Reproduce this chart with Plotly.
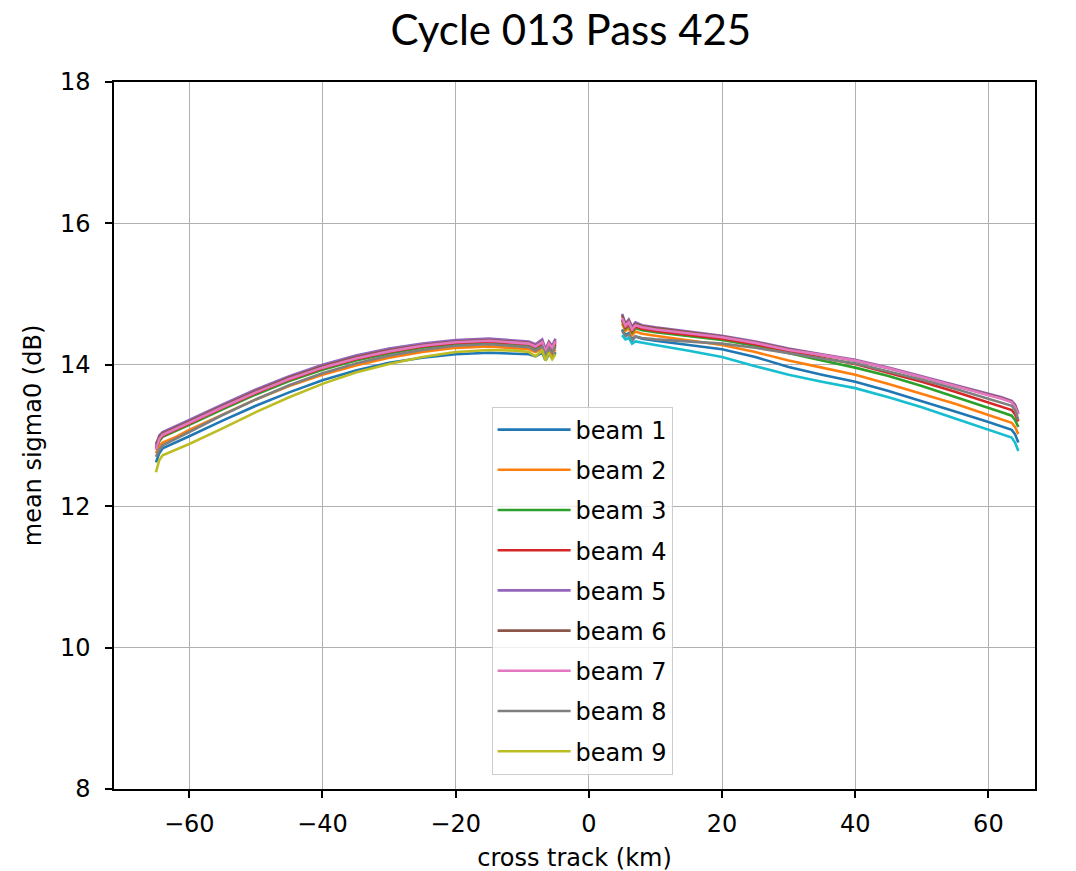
import plotly.graph_objects as go

X_LEFT = [-65, -64.5, -64, -62, -60, -55, -50, -45, -40, -35, -30, -25, -20, -15, -11, -9, -8, -7, -6.5, -6, -5.5, -5]
X_RIGHT = [5, 5.5, 6, 6.5, 7, 8, 10, 15, 20, 25, 30, 35, 40, 45, 50, 55, 60, 62, 63.5, 64, 64.5]

B1_LEFT = [12.62, 12.75, 12.82, 12.90, 12.99, 13.21, 13.42, 13.61, 13.78, 13.92, 14.03, 14.10, 14.15, 14.17, 14.16, 14.15, 14.12, 14.17, 14.06, 14.15, 14.10, 14.18]
B2_LEFT = [12.75, 12.85, 12.90, 12.98, 13.08, 13.30, 13.51, 13.70, 13.86, 13.99, 14.10, 14.18, 14.24, 14.26, 14.24, 14.22, 14.18, 14.23, 14.12, 14.21, 14.15, 14.22]
B3_LEFT = [12.80, 12.92, 12.98, 13.06, 13.15, 13.37, 13.58, 13.77, 13.93, 14.06, 14.16, 14.24, 14.29, 14.31, 14.29, 14.27, 14.23, 14.28, 14.16, 14.26, 14.20, 14.29]
B4_LEFT = [12.82, 12.94, 13.00, 13.08, 13.17, 13.39, 13.60, 13.79, 13.95, 14.08, 14.18, 14.26, 14.31, 14.33, 14.31, 14.29, 14.25, 14.30, 14.18, 14.28, 14.22, 14.31]
B5_LEFT = [12.85, 13.00, 13.05, 13.13, 13.22, 13.44, 13.65, 13.84, 14.00, 14.13, 14.23, 14.30, 14.35, 14.37, 14.35, 14.33, 14.29, 14.36, 14.22, 14.33, 14.27, 14.37]
B6_LEFT = [12.88, 12.98, 13.03, 13.11, 13.20, 13.42, 13.63, 13.82, 13.98, 14.11, 14.21, 14.28, 14.33, 14.35, 14.33, 14.31, 14.27, 14.33, 14.20, 14.31, 14.25, 14.34]
B7_LEFT = [12.80, 12.95, 13.01, 13.09, 13.18, 13.40, 13.61, 13.80, 13.96, 14.09, 14.19, 14.27, 14.32, 14.34, 14.32, 14.30, 14.26, 14.32, 14.19, 14.30, 14.24, 14.33]
B8_LEFT = [12.70, 12.80, 12.86, 12.96, 13.05, 13.29, 13.51, 13.71, 13.88, 14.02, 14.13, 14.21, 14.27, 14.29, 14.27, 14.25, 14.20, 14.26, 14.13, 14.23, 14.17, 14.26]
B9_LEFT = [12.48, 12.65, 12.72, 12.80, 12.88, 13.10, 13.33, 13.54, 13.73, 13.89, 14.01, 14.11, 14.18, 14.21, 14.20, 14.18, 14.12, 14.20, 14.06, 14.17, 14.08, 14.15]

B1_RIGHT = [14.50, 14.42, 14.45, 14.36, 14.40, 14.37, 14.34, 14.28, 14.22, 14.11, 13.97, 13.86, 13.76, 13.63, 13.49, 13.34, 13.19, 13.13, 13.08, 13.02, 12.90]
B2_RIGHT = [14.58, 14.48, 14.52, 14.42, 14.47, 14.44, 14.41, 14.35, 14.28, 14.18, 14.06, 13.96, 13.86, 13.73, 13.59, 13.45, 13.29, 13.23, 13.18, 13.12, 13.02]
B3_RIGHT = [14.62, 14.51, 14.56, 14.46, 14.52, 14.49, 14.46, 14.40, 14.35, 14.27, 14.16, 14.06, 13.96, 13.84, 13.70, 13.55, 13.39, 13.33, 13.28, 13.22, 13.12]
B4_RIGHT = [14.64, 14.53, 14.58, 14.48, 14.54, 14.51, 14.48, 14.42, 14.37, 14.29, 14.19, 14.10, 14.01, 13.89, 13.76, 13.62, 13.47, 13.41, 13.36, 13.30, 13.20]
B5_RIGHT = [14.72, 14.58, 14.64, 14.54, 14.60, 14.56, 14.53, 14.47, 14.41, 14.33, 14.23, 14.15, 14.07, 13.96, 13.84, 13.72, 13.59, 13.54, 13.49, 13.44, 13.32]
B6_RIGHT = [14.70, 14.57, 14.62, 14.52, 14.58, 14.55, 14.52, 14.46, 14.40, 14.32, 14.22, 14.14, 14.06, 13.95, 13.83, 13.71, 13.58, 13.53, 13.48, 13.42, 13.30]
B7_RIGHT = [14.66, 14.55, 14.60, 14.50, 14.56, 14.53, 14.50, 14.44, 14.39, 14.31, 14.21, 14.14, 14.06, 13.95, 13.83, 13.70, 13.57, 13.52, 13.47, 13.40, 13.30]
B8_RIGHT = [14.48, 14.40, 14.43, 14.34, 14.40, 14.38, 14.36, 14.33, 14.30, 14.24, 14.16, 14.09, 14.02, 13.91, 13.79, 13.66, 13.52, 13.47, 13.42, 13.36, 13.22]
B10_RIGHT = [14.42, 14.36, 14.38, 14.30, 14.33, 14.31, 14.28, 14.20, 14.11, 13.98, 13.86, 13.76, 13.67, 13.54, 13.40, 13.24, 13.08, 13.02, 12.97, 12.90, 12.78]

BEAM_NAMES = ["beam 1", "beam 2", "beam 3", "beam 4", "beam 5", "beam 6", "beam 7", "beam 8", "beam 9", "beam 10"]
COLORS = ["#1f77b4", "#ff7f0e", "#2ca02c", "#d62728", "#9467bd", "#8c564b", "#e377c2", "#7f7f7f", "#bcbd22", "#17becf"]

X_TICKS = [-60, -40, -20, 0, 20, 40, 60]
X_TICK_LABELS = ["\u221260", "\u221240", "\u221220", "0", "20", "40", "60"]
Y_TICKS = [8, 10, 12, 14, 16, 18]

LEFTS = [B1_LEFT, B2_LEFT, B3_LEFT, B4_LEFT, B5_LEFT, B6_LEFT, B7_LEFT, B8_LEFT, B9_LEFT, None]
RIGHTS = [B1_RIGHT, B2_RIGHT, B3_RIGHT, B4_RIGHT, B5_RIGHT, B6_RIGHT, B7_RIGHT, B8_RIGHT, None, B10_RIGHT]

fig = go.Figure()
for i, name in enumerate(BEAM_NAMES):
    xs, ys = [], []
    if LEFTS[i] is not None:
        xs += X_LEFT
        ys += LEFTS[i]
    if LEFTS[i] is not None and RIGHTS[i] is not None:
        xs.append(None)
        ys.append(None)
    if RIGHTS[i] is not None:
        xs += X_RIGHT
        ys += RIGHTS[i]
    fig.add_trace(go.Scatter(
        x=xs, y=ys, mode="lines", name=name,
        line=dict(color=COLORS[i], width=2.6),
        connectgaps=False,
        showlegend=(i < 9),
        legendgroup=name,
    ))

font_main = "DejaVu Sans, sans-serif"
TXT = "black"
fig.update_layout(
    width=1060, height=864,
    margin=dict(l=106, r=33, t=74, b=83),
    paper_bgcolor="white", plot_bgcolor="white",
    font=dict(family=font_main, size=24, color=TXT),
    title=dict(text="Cycle 013 Pass 425", x=0.531, xanchor="center", y=1 - 22 / 864, yanchor="middle",
               font=dict(family="Lato, Open Sans, sans-serif", size=42, color="black")),
    xaxis=dict(range=[-71.3, 67.0], tickvals=X_TICKS, ticktext=X_TICK_LABELS,
               showgrid=True, gridcolor="#b0b0b0", gridwidth=1,
               showline=True, linecolor="black", linewidth=1.5, mirror=True,
               ticks="outside", ticklen=7, tickwidth=1.5, tickcolor="black",
               ticklabelstandoff=5, automargin=False,
               zeroline=False, tickfont=dict(size=24, color=TXT),
               title=dict(text="cross track (km)", standoff=18, font=dict(size=24, color=TXT))),
    yaxis=dict(range=[8, 18], tickvals=Y_TICKS,
               showgrid=True, gridcolor="#b0b0b0", gridwidth=1,
               showline=True, linecolor="black", linewidth=1.5, mirror=True,
               ticks="outside", ticklen=7, tickwidth=1.5, tickcolor="black",
               ticklabelstandoff=10, automargin=False,
               zeroline=False, tickfont=dict(size=24, color=TXT),
               title=dict(text="mean sigma0 (dB)", standoff=12, font=dict(size=24, color=TXT))),
    legend=dict(x=0.41, y=0.541, xanchor="left", yanchor="top",
                bgcolor="rgba(255,255,255,0.8)", bordercolor="#cccccc", borderwidth=1,
                itemwidth=73,
                font=dict(size=24, color=TXT), tracegroupgap=6),
)

fig.write_html("out.html")
